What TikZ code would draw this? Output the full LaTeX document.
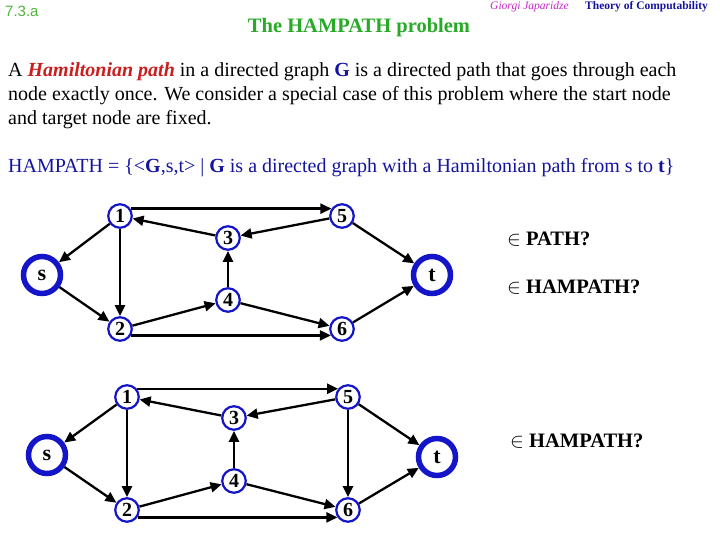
\documentclass[tikz,border=0pt]{standalone}
\usepackage{fontspec}
\setmainfont{Liberation Serif}
\newfontfamily\headsans{Liberation Sans}
\usetikzlibrary{arrows.meta}
\definecolor{titlegreen}{RGB}{40,170,40}
\definecolor{numgreen}{RGB}{80,180,60}
\definecolor{nodeblue}{RGB}{20,20,200}
\definecolor{textblue}{RGB}{20,20,160}
\definecolor{hamred}{RGB}{200,30,30}
\definecolor{authormag}{RGB}{200,40,200}
\newcommand{\fsz}[1]{\fontsize{#1}{#1}\selectfont}

\begin{document}
\begin{tikzpicture}[x=1pt, y=-1pt,
  vtx/.style={circle, draw=nodeblue, line width=2.2pt, fill=white,
    minimum size=23.5pt, inner sep=0pt, font=\bfseries\fsz{20}},
  term/.style={vtx, line width=5.5pt, minimum size=37pt, font=\bfseries\fsz{22}},
  arr/.style={-{Triangle[length=11pt,width=10pt]}, line width=2.3pt},
  line/.style={anchor=base west, inner sep=0pt, font=\fsz{20}},
  ask/.style={anchor=base west, inner sep=0pt, font=\bfseries\fsz{20.5}},
]
  \useasboundingbox[fill=white] (0,0) rectangle (720,540);

  % header
  \node[anchor=base west, inner sep=0pt, text=numgreen, font=\headsans\fsz{15}]
    (num) at (5,17) {7.3.a};
  \node[anchor=base, inner sep=0pt, text=titlegreen, font=\bfseries\fsz{20.5}]
    (title) at (359,33) {The HAMPATH problem};
  \node[anchor=base west, inner sep=0pt, text=authormag, font=\itshape\fsz{11.5}]
    (author) at (490,10) {Giorgi Japaridze};
  \node[anchor=base west, inner sep=0pt, text=textblue, font=\bfseries\fsz{11.5}]
    (course) at (585,10) {Theory of Computability};

  % definition
  \node[line] (l1) at (8,77) {A \textcolor{hamred}{\textbf{\textit{Hamiltonian path}}}
    in a directed graph \textcolor{textblue}{\textbf{G}} is a directed path that goes through each};
  \node[line] (l2) at (8,101) {node exactly once. We consider a special case of this problem where the start node};
  \node[line] (l3) at (8,125) {and target node are fixed.};
  \node[line, text=textblue] (l4) at (8,173) {HAMPATH = \{<\textbf{G},s,t> | \textbf{G} is a directed graph
    with a Hamiltonian path from s to \textbf{t}\}};

  % first graph
  \node[vtx] (a1) at (120,216) {1};
  \node[vtx] (a5) at (342,216) {5};
  \node[vtx] (a3) at (228,238) {3};
  \node[term] (as) at (42,275) {s};
  \node[term] (at) at (432,275) {t};
  \node[vtx] (a4) at (228,300) {4};
  \node[vtx] (a2) at (120,329) {2};
  \node[vtx] (a6) at (342,329) {6};
  \draw[arr] (a1.35) -- (a5.145);
  \draw[arr] (a2.-30) -- (a6.-150);
  \foreach \u/\v in {a1/as, a1/a2, a3/a1, a5/a3, a5/at, as/a2, a2/a4, a4/a3, a4/a6, a6/at}
    \draw[arr] (\u) -- (\v);
  \node[ask] (qpath) at (507,245) {$\in$ PATH?};
  \node[ask] (qham) at (507,293) {$\in$ HAMPATH?};

  % second graph
  \node[vtx] (b1) at (127,397) {1};
  \node[vtx] (b5) at (348,397) {5};
  \node[vtx] (b3) at (234,418) {3};
  \node[term] (bs) at (47,455) {s};
  \node[term] (bt) at (437,457) {t};
  \node[vtx] (b4) at (234,481) {4};
  \node[vtx] (b2) at (127,510) {2};
  \node[vtx] (b6) at (348,510) {6};
  \draw[arr] (b1.40) -- (b5.140);
  \draw[arr] (b2.-35) -- (b6.-145);
  \foreach \u/\v in {b1/bs, b1/b2, b3/b1, b5/b3, b5/bt, b5/b6, bs/b2, b2/b4, b4/b3, b4/b6, b6/bt}
    \draw[arr] (\u) -- (\v);
  \node[ask] (qham2) at (510,447) {$\in$ HAMPATH?};
\end{tikzpicture}
\end{document}
